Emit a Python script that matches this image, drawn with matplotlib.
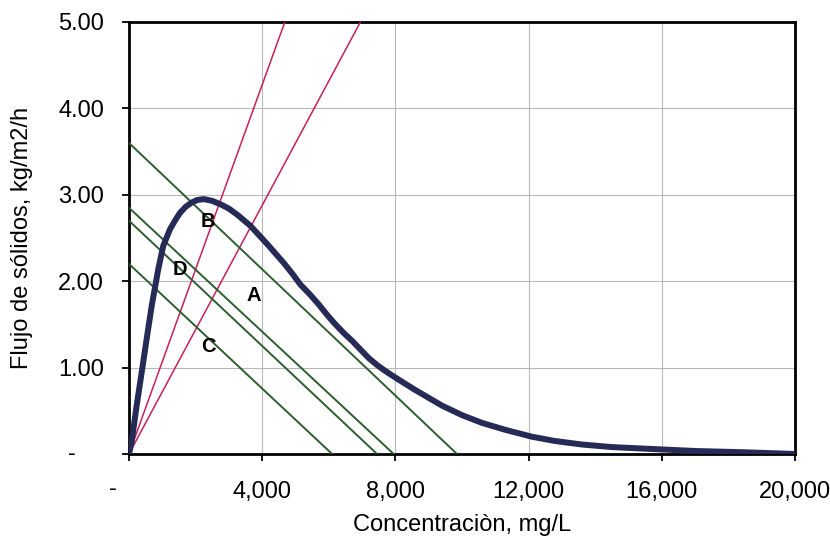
import matplotlib
matplotlib.use("Agg")
import matplotlib.pyplot as plt

# Curva de flujo de sólidos (concentración en mg/L, flujo en kg/m2/h)
concentracion = [0, 80, 230, 380, 530, 680, 880, 1030, 1230, 1380, 1530,
                 1700, 1880, 2050, 2250, 2500, 2750, 3000, 3250, 3650, 4150,
                 4400, 4650, 4900, 5150, 5450, 5700, 5950, 6200, 6450, 6700,
                 6950, 7200, 7450, 7700, 7900, 8100, 8600, 9000, 9400, 10000,
                 10600, 11300, 12100, 12800, 13600, 14500, 15600, 17000,
                 18500, 20000]
flujo = [0, 0.14, 0.56, 0.94, 1.33, 1.71, 2.14, 2.41, 2.60, 2.70, 2.79,
         2.86, 2.91, 2.94, 2.95, 2.93, 2.89, 2.84, 2.77, 2.64, 2.43,
         2.32, 2.21, 2.09, 1.96, 1.84, 1.73, 1.61, 1.50, 1.40, 1.31,
         1.21, 1.11, 1.03, 0.96, 0.91, 0.86, 0.74, 0.65, 0.56, 0.45,
         0.36, 0.28, 0.20, 0.15, 0.11, 0.08, 0.06, 0.035,
         0.02, 0.0]

# Rectas de carga desde el origen: concentración donde alcanzan 5.00
rectas_carga_x = [4680, 6950]
rectas_carga_y = [5.0, 5.0]

# Rectas de operación: ordenada en el origen y corte con el eje x
operacion_y0 = [3.60, 2.85, 2.70, 2.20]
operacion_x0 = [9850, 7950, 7450, 6100]

# Etiquetas de puntos
etiquetas = ["B", "D", "A", "C"]
etiquetas_x = [2360, 1540, 3750, 2390]
etiquetas_y = [2.69, 2.14, 1.84, 1.25]

xticks = [0, 4000, 8000, 12000, 16000, 20000]
xtick_labels = ["", "4,000", "8,000", "12,000", "16,000", "20,000"]
yticks = [0, 1, 2, 3, 4, 5]
ytick_labels = ["", "1.00", "2.00", "3.00", "4.00", "5.00"]

plt.rcParams["font.family"] = ["Liberation Sans", "DejaVu Sans"]

fig = plt.figure(figsize=(8.30, 5.54), dpi=100)
ax = fig.add_axes([0.1554, 0.1805, 0.8024, 0.7798])

ax.set_xlim(0, 20000)
ax.set_ylim(0, 5)

ax.grid(True, color="#b8b8b8", linewidth=0.8)
ax.set_axisbelow(True)

for x1, y1 in zip(rectas_carga_x, rectas_carga_y):
    ax.plot([0, x1], [0, y1], color="#c4215c", linewidth=1.1, zorder=3)

for y0, x0 in zip(operacion_y0, operacion_x0):
    ax.plot([0, x0], [y0, 0], color="#2d5e2d", linewidth=1.4, zorder=3)

ax.plot(concentracion, flujo, color="#262a56", linewidth=4.3,
        solid_capstyle="round", solid_joinstyle="round", zorder=4)

for t, x, y in zip(etiquetas, etiquetas_x, etiquetas_y):
    ax.text(x, y, t, fontsize=14.5, fontweight="bold", ha="center",
            va="center", color="black", zorder=5)

ax.set_xticks(xticks)
ax.set_xticklabels(xtick_labels)
ax.set_yticks(yticks)
ax.set_yticklabels(ytick_labels)
ax.tick_params(axis="both", direction="out", length=5, width=1.3,
               labelsize=17, color="black")
ax.tick_params(axis="x", pad=14.5)
ax.tick_params(axis="y", pad=13)

# Guiones para el valor cero en ambos ejes
ax.annotate("-", xy=(0, 0), xycoords="data", xytext=(-11.5, -25),
            textcoords="offset points", ha="center", va="center", fontsize=17)
ax.annotate("-", xy=(0, 0), xycoords="data", xytext=(-41, 0),
            textcoords="offset points", ha="center", va="center", fontsize=17)

for s in ax.spines.values():
    s.set_linewidth(2.0)
    s.set_color("black")

ax.set_xlabel("Concentraciòn, mg/L", fontsize=17, labelpad=8)
ax.set_ylabel("Flujo de sólidos, kg/m2/h", fontsize=17, labelpad=18)

fig.savefig("out.png", dpi=100, facecolor="white")
